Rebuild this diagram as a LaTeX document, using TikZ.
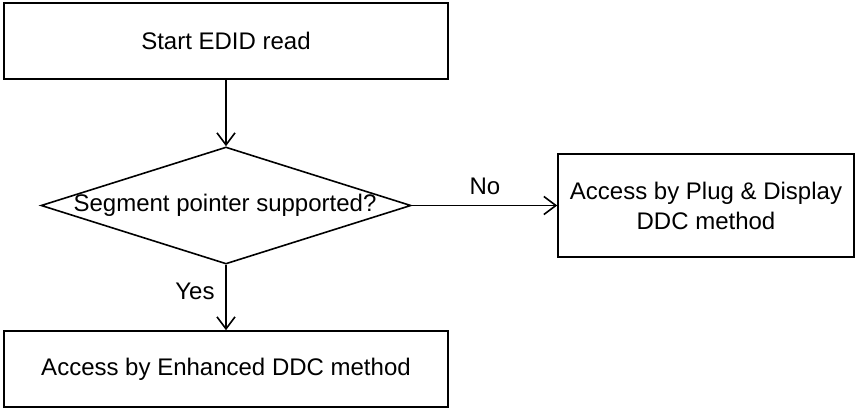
\documentclass[tikz,border=0pt]{standalone}
\usepackage{fontspec}
\setmainfont{Liberation Sans}
\usetikzlibrary{arrows.meta,shapes.geometric}
\begin{document}
\begin{tikzpicture}[x=1pt,y=-1pt,
  every node/.style={font=\fontsize{24}{30}\selectfont},
  procbox/.style={draw,line width=1.6pt,rectangle,inner sep=0pt,align=center},
  decbox/.style={draw,line width=1.6pt,diamond,inner sep=0pt},
  flow/.style={line width=1.6pt,-{Straight Barb[length=12pt,width=18pt,line width=1.6pt]}},
  lbl/.style={inner sep=0pt}]
\useasboundingbox (0,0) rectangle (855,409);
\node[procbox,minimum width=444pt,minimum height=76pt] (start) at (226,41) {Start EDID read};
\node[decbox,minimum width=370pt,minimum height=117pt] (dec) at (226,205.5) {};
\node[lbl] (dectext) at (225,205) {Segment pointer supported?};
\node[procbox,minimum width=296pt,minimum height=103pt] (pd) at (706,205.5) {Access by Plug \& Display\\DDC method};
\node[procbox,minimum width=444pt,minimum height=76pt] (enh) at (226,369) {Access by Enhanced DDC method};
\draw[flow] (start.south) -- (dec.north);
\draw[flow] (dec.east) -- (pd.west);
\draw[flow] (dec.south) -- (enh.north);
\node[lbl] (no) at (485,186) {No};
\node[lbl] (yes) at (195,291) {Yes};
\end{tikzpicture}
\end{document}
